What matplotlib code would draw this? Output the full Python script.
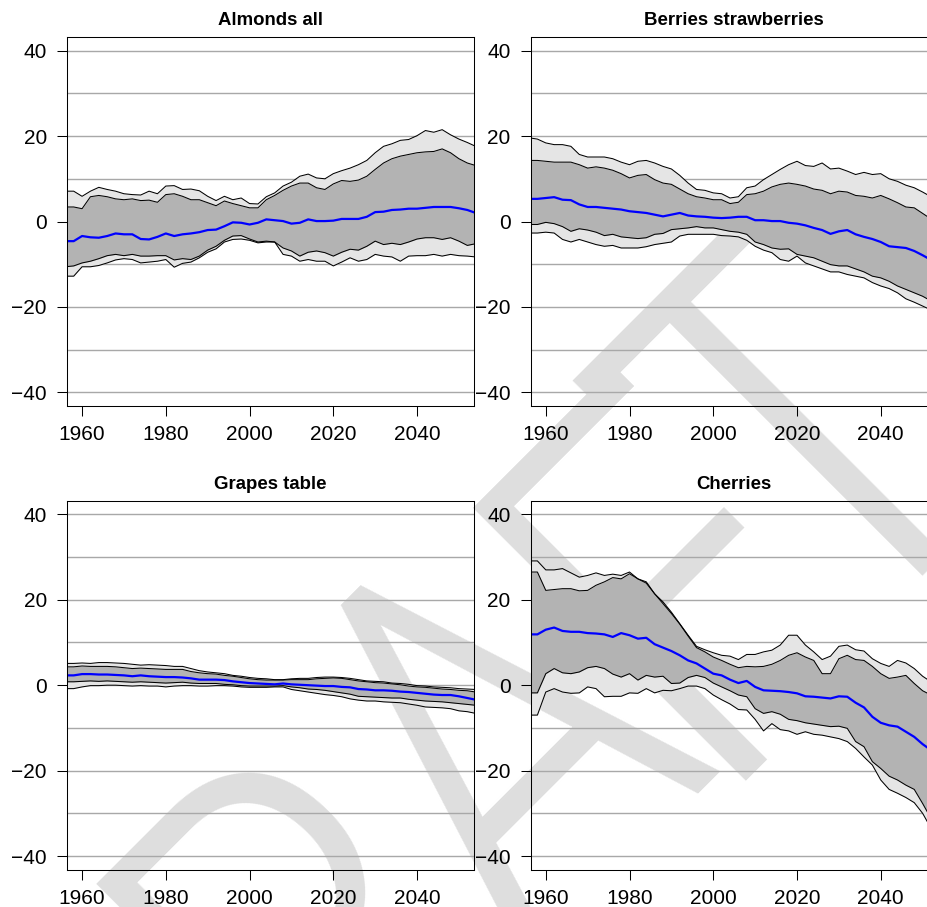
import numpy as np
import matplotlib as mpl
mpl.use('Agg')
import matplotlib.pyplot as plt
from matplotlib import font_manager

plt.rcParams['font.family'] = ['Liberation Sans', 'DejaVu Sans']

years = np.arange(1956, 2055, 2)

# each panel: outer upper, inner upper, median, inner lower, outer lower
almonds_hi95 = [7.1, 7.1, 5.9, 7.1, 8.0, 7.5, 7.1, 6.5, 6.3, 6.2, 7.1, 6.5, 8.3, 8.4, 7.5, 7.6, 7.2, 5.9, 4.9, 5.9,
                5.1, 5.5, 4.2, 4.1, 5.8, 6.7, 8.3, 9.2, 10.6, 11.1, 10.2, 10.0, 11.2, 11.9, 12.5, 13.3, 14.3, 16.1, 17.6, 18.2,
                19.0, 19.2, 20.1, 21.3, 20.9, 21.5, 20.3, 19.3, 18.5, 17.6]
almonds_hi50 = [3.4, 3.4, 3.0, 5.8, 6.1, 5.8, 5.3, 5.1, 5.3, 4.9, 5.0, 4.5, 6.3, 6.5, 5.9, 5.1, 5.1, 4.4, 3.7, 4.8,
                4.2, 3.7, 3.2, 3.2, 5.1, 6.1, 7.3, 8.3, 9.0, 9.0, 7.9, 7.5, 8.8, 9.6, 9.4, 9.7, 10.6, 12.2, 13.7, 14.7,
                15.3, 15.7, 16.1, 16.3, 16.4, 17.0, 16.1, 14.7, 13.7, 13.1]
almonds_med = [-4.6, -4.6, -3.4, -3.7, -3.8, -3.4, -2.8, -3.0, -3.0, -4.1, -4.2, -3.6, -2.8, -3.4, -3.0, -2.8, -2.5, -2.0, -1.9, -1.1,
               -0.2, -0.3, -0.7, -0.3, 0.5, 0.3, 0.1, -0.5, -0.3, 0.5, 0.1, 0.1, 0.2, 0.6, 0.6, 0.6, 1.1, 2.2, 2.3, 2.7,
               2.8, 3.0, 3.0, 3.2, 3.4, 3.4, 3.4, 3.1, 2.7, 2.0]
almonds_lo50 = [-10.6, -10.4, -9.7, -9.3, -8.7, -8.0, -7.7, -8.0, -7.7, -8.1, -8.1, -8.0, -8.0, -9.0, -8.7, -8.9, -8.1, -6.7, -5.8, -4.4,
                -3.4, -3.3, -4.1, -4.8, -4.6, -4.8, -6.2, -6.9, -8.1, -7.2, -6.9, -7.3, -8.1, -7.2, -6.5, -6.7, -5.8, -4.6, -5.4, -5.1,
                -5.4, -4.8, -4.1, -3.8, -3.8, -4.2, -3.8, -4.6, -5.6, -5.2]
almonds_lo95 = [-12.8, -12.8, -10.6, -10.6, -10.3, -9.7, -9.0, -8.7, -8.9, -9.7, -9.5, -9.3, -8.9, -10.7, -9.8, -9.5, -8.5, -7.2, -6.4, -4.8,
                -4.2, -4.1, -4.4, -5.0, -4.8, -4.8, -7.7, -8.1, -9.3, -8.9, -9.3, -9.3, -10.4, -9.5, -8.5, -9.3, -8.9, -7.7, -8.1, -8.3,
                -9.3, -8.1, -8.0, -8.0, -7.7, -8.1, -7.7, -8.0, -8.1, -8.3]

berries_hi95 = [19.6, 19.3, 18.4, 18.0, 18.0, 17.6, 15.7, 15.1, 15.1, 15.1, 14.7, 13.9, 13.3, 14.1, 14.3, 13.7, 12.9, 12.3, 10.8, 9.0,
                7.5, 7.3, 6.7, 6.5, 5.5, 5.8, 7.9, 8.3, 9.8, 11.0, 12.2, 13.3, 14.1, 13.1, 12.9, 13.7, 12.3, 12.5, 11.8, 11.0,
                11.5, 11.0, 11.2, 10.0, 9.4, 8.5, 7.9, 6.9, 5.8, 4.8]
berries_hi50 = [14.3, 14.3, 14.1, 13.9, 13.9, 13.9, 13.3, 12.5, 12.8, 12.5, 12.0, 11.2, 10.2, 10.8, 11.0, 9.8, 9.0, 8.7, 7.6, 6.5,
                5.8, 5.5, 5.1, 5.1, 4.2, 4.5, 6.3, 6.5, 7.1, 8.1, 8.7, 9.0, 8.7, 8.3, 7.6, 7.3, 6.5, 7.1, 6.9, 6.1,
                5.9, 5.5, 6.1, 5.3, 4.4, 3.4, 3.2, 1.9, 0.6, -0.3]
berries_med = [5.3, 5.3, 5.5, 5.7, 5.1, 5.0, 4.0, 3.4, 3.4, 3.2, 3.0, 2.8, 2.4, 2.2, 2.0, 1.6, 1.2, 1.6, 2.0, 1.4,
               1.2, 1.1, 0.9, 0.8, 0.9, 1.1, 1.1, 0.3, 0.3, 0.1, 0.1, -0.3, -0.5, -0.9, -1.5, -2.0, -2.9, -2.3, -2.0, -3.0,
               -3.6, -4.1, -4.8, -5.8, -6.0, -6.2, -6.9, -7.9, -9.0, -10.1]
berries_lo50 = [-0.7, -0.7, -0.2, -0.5, -1.2, -2.3, -1.7, -2.0, -2.5, -3.3, -3.0, -3.6, -3.8, -4.0, -3.8, -3.0, -2.8, -1.9, -1.7, -1.5,
                -1.2, -1.5, -1.5, -1.9, -2.3, -2.5, -3.0, -4.8, -5.4, -6.2, -6.5, -6.4, -7.7, -8.1, -8.5, -9.3, -10.1, -10.4, -10.4, -11.1,
                -11.8, -12.8, -13.2, -14.0, -15.1, -15.9, -16.7, -17.5, -18.6, -19.4]
berries_lo95 = [-2.7, -2.7, -2.5, -2.7, -4.2, -4.8, -4.2, -4.8, -5.4, -5.8, -5.6, -6.2, -6.2, -6.2, -5.9, -5.4, -5.1, -4.8, -3.4, -3.0,
                -3.0, -3.0, -3.0, -3.3, -3.4, -3.6, -4.4, -5.8, -6.7, -7.3, -8.9, -9.3, -8.1, -9.7, -10.4, -11.1, -11.8, -11.8, -12.4, -12.8,
                -13.2, -14.3, -15.1, -15.7, -16.7, -18.1, -18.9, -19.8, -20.7, -21.5]

grapes_hi95 = [5.1, 5.1, 5.2, 5.1, 5.3, 5.3, 5.2, 5.1, 4.9, 4.7, 4.8, 4.7, 4.6, 4.4, 4.4, 3.9, 3.4, 3.1, 2.9, 2.7,
               2.3, 2.1, 1.8, 1.6, 1.5, 1.3, 1.3, 1.5, 1.6, 1.6, 1.8, 1.9, 1.9, 1.8, 1.6, 1.3, 1.0, 0.9, 0.8, 0.5,
               0.4, 0.2, -0.1, -0.2, -0.4, -0.5, -0.6, -0.8, -0.9, -1.0]
grapes_hi50 = [4.3, 4.3, 4.5, 4.4, 4.4, 4.4, 4.3, 4.1, 3.9, 4.0, 3.9, 3.8, 3.7, 3.7, 3.7, 3.2, 2.9, 2.7, 2.6, 2.3,
               2.1, 1.8, 1.5, 1.3, 1.2, 1.2, 1.2, 1.3, 1.3, 1.3, 1.5, 1.6, 1.7, 1.6, 1.3, 1.0, 0.8, 0.6, 0.5, 0.3,
               0.1, -0.2, -0.4, -0.5, -0.7, -0.9, -1.0, -1.2, -1.3, -1.6]
grapes_med = [2.3, 2.3, 2.6, 2.6, 2.5, 2.5, 2.4, 2.3, 2.1, 2.3, 2.1, 2.0, 1.9, 1.9, 1.8, 1.6, 1.3, 1.3, 1.3, 1.2,
              0.9, 0.7, 0.5, 0.4, 0.3, 0.2, 0.4, 0.2, 0.1, 0.0, -0.1, -0.2, -0.2, -0.4, -0.5, -0.9, -1.0, -1.2, -1.2, -1.3,
              -1.5, -1.6, -1.8, -2.0, -2.2, -2.3, -2.3, -2.6, -3.0, -3.4]
grapes_lo50 = [0.8, 0.8, 0.9, 1.0, 0.9, 1.0, 0.9, 0.8, 0.7, 0.8, 0.7, 0.6, 0.5, 0.6, 0.7, 0.5, 0.4, 0.4, 0.4, 0.2,
               0.1, -0.1, -0.2, -0.2, -0.2, -0.2, -0.1, -0.4, -0.6, -0.9, -1.0, -1.2, -1.5, -1.8, -2.1, -2.6, -2.7, -2.8, -2.9, -3.0,
               -3.0, -3.3, -3.5, -3.7, -3.8, -3.9, -4.1, -4.3, -4.5, -4.7]
grapes_lo95 = [-0.8, -0.8, -0.4, -0.1, -0.1, 0.0, 0.0, -0.1, -0.2, -0.1, -0.2, -0.2, -0.4, -0.2, -0.1, -0.1, -0.2, -0.2, -0.1, -0.1,
               -0.2, -0.4, -0.5, -0.5, -0.5, -0.4, -0.4, -1.0, -1.3, -1.6, -1.9, -2.2, -2.4, -2.7, -3.2, -3.5, -3.7, -3.7, -3.9, -4.0,
               -4.1, -4.4, -4.7, -5.1, -5.2, -5.3, -5.5, -6.0, -6.2, -6.6]

cherries_hi95 = [29.1, 29.1, 27.0, 27.0, 27.3, 26.3, 25.3, 25.7, 26.3, 25.7, 26.0, 25.7, 26.5, 24.9, 24.2, 21.4, 19.5, 17.1, 14.4, 11.7,
                 9.1, 8.3, 7.6, 7.0, 6.8, 6.0, 7.2, 7.2, 7.8, 8.2, 9.4, 11.7, 11.7, 9.4, 7.8, 6.0, 6.8, 9.1, 9.4, 8.3,
                 8.0, 6.2, 5.1, 4.4, 5.8, 5.2, 3.9, 2.1, 0.8, -0.4]
cherries_hi50 = [26.5, 26.5, 22.2, 22.4, 22.6, 22.6, 22.1, 22.2, 23.4, 24.2, 25.2, 24.9, 26.1, 24.9, 23.9, 21.4, 19.1, 16.8, 14.3, 11.5,
                 8.8, 7.8, 6.6, 5.8, 4.9, 4.1, 4.4, 4.3, 4.4, 4.9, 5.8, 7.0, 7.6, 6.6, 5.8, 2.7, 2.7, 6.2, 7.0, 6.0,
                 5.8, 4.4, 2.7, 1.6, 1.9, 2.3, 0.4, -1.3, -2.3, -3.1]
cherries_med = [11.9, 11.9, 13.0, 13.5, 12.7, 12.5, 12.5, 12.2, 12.1, 11.9, 11.3, 12.2, 11.7, 10.9, 11.1, 9.6, 8.8, 8.0, 7.0, 5.8,
                5.1, 3.9, 2.7, 2.3, 1.3, 0.5, 1.0, -0.4, -1.2, -1.3, -1.4, -1.6, -1.9, -2.6, -2.7, -2.9, -3.1, -2.6, -2.7, -4.1,
                -5.2, -7.4, -8.8, -9.4, -9.7, -10.9, -12.1, -13.8, -15.2, -16.4]
cherries_lo50 = [-1.8, -1.8, 2.7, 3.9, 2.9, 2.7, 3.1, 4.1, 4.4, 3.9, 2.6, 1.9, 2.7, 1.2, 2.3, 1.9, 2.1, 0.4, 0.5, 1.8,
                 2.3, 1.8, 0.5, -0.4, -1.3, -2.3, -2.7, -5.5, -6.6, -6.2, -6.8, -8.0, -8.3, -8.8, -9.1, -9.4, -9.7, -9.6, -10.1, -13.2,
                 -14.4, -17.9, -19.5, -21.3, -22.2, -23.4, -24.4, -27.7, -31.2, -33.1]
cherries_lo95 = [-7.0, -7.0, -1.6, -0.8, -1.6, -1.9, -1.8, -0.4, -0.8, -2.7, -2.6, -2.6, -1.8, -1.9, -0.8, -1.8, -1.2, -1.3, -0.8, -0.2,
                 -0.2, -0.8, -2.3, -3.4, -4.4, -5.7, -5.8, -8.0, -10.7, -9.0, -10.4, -10.7, -11.5, -10.9, -11.5, -11.7, -12.1, -12.5, -13.2, -14.8,
                 -16.8, -18.7, -22.2, -24.4, -25.3, -26.3, -27.5, -30.0, -33.5, -35.5]

titles = ['Almonds all', 'Berries strawberries', 'Grapes table', 'Cherries']
series = [
    (almonds_hi95, almonds_hi50, almonds_med, almonds_lo50, almonds_lo95),
    (berries_hi95, berries_hi50, berries_med, berries_lo50, berries_lo95),
    (grapes_hi95, grapes_hi50, grapes_med, grapes_lo50, grapes_lo95),
    (cherries_hi95, cherries_hi50, cherries_med, cherries_lo50, cherries_lo95),
]

W, H = 928, 907
fig = plt.figure(figsize=(W / 100, H / 100), dpi=100)

# DRAFT watermark: narrow light face, one letter at a time on a 45 degree baseline
wm_file = font_manager.findfont(font_manager.FontProperties(family='Roboto Condensed', weight='light'))
wm_prop = font_manager.FontProperties(fname=wm_file, size=390)
wm_pos = [(220, 1261), (429, 1051), (620, 860), (794, 687), (928, 553)]
for letter, (px, py) in zip('DRAFT', wm_pos):
    fig.text(px / W, 1 - py / H, letter, fontproperties=wm_prop, color='#dedede',
             rotation=45, rotation_mode='anchor', ha='center', va='baseline', zorder=-1)

# axes boxes in pixels: left, top
boxes = [(67, 37), (530.7, 37), (67, 500.7), (530.7, 500.7)]
aw, ah = 407, 369

for (left, top), title, (hi95, hi50, med, lo50, lo95) in zip(boxes, titles, series):
    ax = fig.add_axes([left / W, 1 - (top + ah) / H, aw / W, ah / H])
    ax.set_facecolor('none')
    for v in range(-40, 41, 10):
        ax.axhline(v, color='#a8a8a8', lw=1.0, zorder=0.5)
    ax.fill_between(years, lo95, hi95, color='#e5e5e5', lw=0, zorder=1)
    ax.fill_between(years, lo50, hi50, color='#b3b3b3', lw=0, zorder=1.1)
    for s in (hi95, hi50, lo50, lo95):
        ax.plot(years, s, color='black', lw=0.75, zorder=2)
    ax.plot(years, med, color='#0000ff', lw=1.6, zorder=3)
    ax.set_xlim(1956.4, 2053.6)
    ax.set_ylim(-43.2, 43.2)
    ax.set_xticks([1960, 1980, 2000, 2020, 2040])
    ax.set_yticks([-40, -20, 0, 20, 40])
    ax.tick_params(direction='out', length=7.2, width=0.75, labelsize=15)
    ax.tick_params(axis='x', pad=6.5)
    ax.tick_params(axis='y', pad=7.2)
    for sp in ax.spines.values():
        sp.set_linewidth(0.75)
        sp.set_zorder(4)
    ax.set_title(title, fontsize=13.4, fontweight='bold', pad=8.5)

fig.savefig('out.png', dpi=100)
